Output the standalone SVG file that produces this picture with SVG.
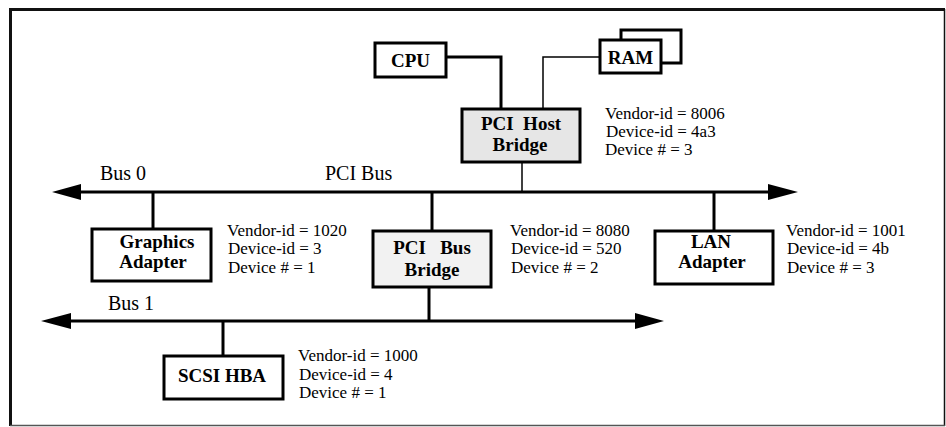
<svg xmlns="http://www.w3.org/2000/svg" width="946" height="427" viewBox="0 0 946 427">
<style>
.box{fill:#fff;stroke:#000;stroke-width:3}
.gray{fill:#e6e6e6}
.light{fill:#f2f2f2}
.lbl{font-family:"Liberation Serif","Times New Roman",serif;font-weight:bold;font-size:19px;text-anchor:middle;fill:#000}
.info{font-family:"Liberation Serif","Times New Roman",serif;font-size:17px;fill:#000}
.bus{font-family:"Liberation Serif","Times New Roman",serif;font-size:20px;fill:#000}
.w{stroke:#000;stroke-width:3;fill:none}
.t{stroke:#000;stroke-width:1.5;fill:none}
</style>
<rect width="946" height="427" fill="#fff"/>
<g id="frame">
<line x1="9" y1="9.5" x2="945" y2="9.5" stroke="#111" stroke-width="3"/>
<line x1="10.5" y1="8" x2="10.5" y2="426" stroke="#111" stroke-width="3"/>
<line x1="944.5" y1="9" x2="944.5" y2="426" stroke="#111" stroke-width="1.5"/>
<line x1="10" y1="425.5" x2="945" y2="425.5" stroke="#555" stroke-width="1.5"/>
</g>
<g id="connectors">
<polyline class="w" points="446,57 501,57 501,110"/>
<polyline class="t" points="600,57 543,57 543,110"/>
<line class="t" x1="522" y1="162" x2="522" y2="192"/>
<line class="w" x1="78" y1="192" x2="770" y2="192"/>
<polygon points="52,192 81,184 81,200"/>
<polygon points="798,192 768,184 768,200"/>
<line class="w" x1="153" y1="192" x2="153" y2="229"/>
<line class="w" x1="432" y1="192" x2="432" y2="231"/>
<line class="w" x1="714" y1="192" x2="714" y2="231"/>
<line class="w" x1="429" y1="287" x2="429" y2="321"/>
<line class="w" x1="68" y1="321" x2="638" y2="321"/>
<polygon points="41,321 71,313 71,329"/>
<polygon points="664,321 635,313 635,329"/>
<line class="w" x1="223" y1="321" x2="223" y2="356"/>
<text class="bus" x="100" y="180">Bus 0</text>
<text class="bus" x="325" y="180">PCI Bus</text>
<text class="bus" x="108" y="310">Bus 1</text>
</g>
<g id="cpu">
<rect class="box" x="375" y="43" width="71" height="34"/>
<text class="lbl" x="410.5" y="67">CPU</text>
</g>
<g id="ram">
<polyline class="box" points="621,40 621,30 681,30 681,63 661,63"/>
<rect class="box" x="600" y="40" width="61" height="33"/>
<text class="lbl" x="630.5" y="64">RAM</text>
</g>
<g id="host-bridge">
<rect class="box gray" x="462" y="109" width="118" height="53"/>
<text class="lbl" x="521" y="130" xml:space="preserve">PCI  Host</text>
<text class="lbl" x="520" y="151">Bridge</text>
<text class="info" x="605" y="119">Vendor-id = 8006</text>
<text class="info" x="606" y="137">Device-id = 4a3</text>
<text class="info" x="605" y="155">Device # = 3</text>
</g>
<g id="graphics">
<rect class="box" x="92" y="229" width="119" height="52"/>
<text class="lbl" x="157" y="248">Graphics</text>
<text class="lbl" x="153" y="268">Adapter</text>
<text class="info" x="227" y="236">Vendor-id = 1020</text>
<text class="info" x="228" y="254">Device-id = 3</text>
<text class="info" x="228" y="273">Device # = 1</text>
</g>
<g id="bus-bridge">
<rect class="box light" x="373" y="231" width="118" height="56"/>
<text class="lbl" x="432" y="254" xml:space="preserve">PCI   Bus</text>
<text class="lbl" x="432" y="276">Bridge</text>
<text class="info" x="510" y="236">Vendor-id = 8080</text>
<text class="info" x="511" y="254">Device-id = 520</text>
<text class="info" x="511" y="273">Device # = 2</text>
</g>
<g id="lan">
<rect class="box" x="655" y="231" width="118" height="53"/>
<text class="lbl" x="711" y="248">LAN</text>
<text class="lbl" x="712" y="268">Adapter</text>
<text class="info" x="786" y="236">Vendor-id = 1001</text>
<text class="info" x="787" y="254">Device-id = 4b</text>
<text class="info" x="787" y="273">Device # = 3</text>
</g>
<g id="scsi">
<rect class="box" x="164" y="356" width="119" height="43"/>
<text class="lbl" x="222" y="382">SCSI HBA</text>
<text class="info" x="298" y="361">Vendor-id = 1000</text>
<text class="info" x="299" y="380">Device-id = 4</text>
<text class="info" x="299" y="398">Device # = 1</text>
</g>
</svg>
